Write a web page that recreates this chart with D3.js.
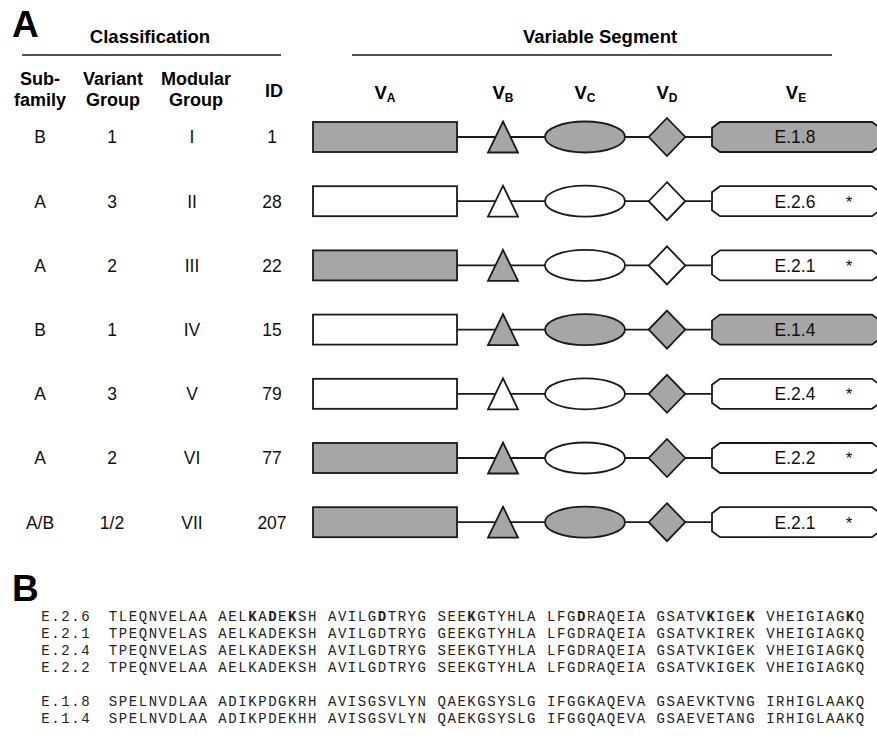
<!DOCTYPE html>
<html><head><meta charset="utf-8">
<script src="https://cdn.jsdelivr.net/npm/d3@7"></script>
<style>
html,body{margin:0;padding:0;background:#fff;}
svg{display:block;font-family:"Liberation Sans",Arial,sans-serif;}
</style></head>
<body>
<svg id="chart" width="877" height="749"></svg>
<script>
// ---------- Panel A data ----------
const subfamily    = ["B","A","A","B","A","A","A/B"];
const variantGroup = ["1","3","2","1","3","2","1/2"];
const modularGroup = ["I","II","III","IV","V","VI","VII"];
const ids          = ["1","28","22","15","79","77","207"];
const segments     = ["A","B","C","D","E"];
// 1 = grey (filled), 0 = white
const vA = [1,0,1,0,0,1,1];
const vB = [1,0,1,1,0,1,1];
const vC = [1,0,0,1,0,0,1];
const vD = [1,0,0,1,1,1,1];
const vE = [1,0,0,1,0,0,0];
const vELabel = ["E.1.8","E.2.6","E.2.1","E.1.4","E.2.4","E.2.2","E.2.1"];
const vEStar  = [0,1,1,0,1,1,1];

// ---------- Panel B data ----------
const seqLabels = ["E.2.6","E.2.1","E.2.4","E.2.2","E.1.8","E.1.4"];
const seqLine   = [0,1,2,3,5,6];  // line slots (slot 4 is blank)
const seqE26 = ["TLEQNVELAA","AELKADEKSH","AVILGDTRYG","SEEKGTYHLA","LFGDRAQEIA","GSATVKIGEK","VHEIGIAGKQ"];
const seqE21 = ["TPEQNVELAS","AELKADEKSH","AVILGDTRYG","GEEKGTYHLA","LFGDRAQEIA","GSATVKIREK","VHEIGIAGKQ"];
const seqE24 = ["TPEQNVELAS","AELKADEKSH","AVILGDTRYG","SEEKGTYHLA","LFGDRAQEIA","GSATVKIGEK","VHEIGIAGKQ"];
const seqE22 = ["TPEQNVELAA","AELKADEKSH","AVILGDTRYG","SEEKGTYHLA","LFGDRAQEIA","GSATVKIGEK","VHEIGIAGKQ"];
const seqE18 = ["SPELNVDLAA","ADIKPDGKRH","AVISGSVLYN","QAEKGSYSLG","IFGGKAQEVA","GSAEVKTVNG","IRHIGLAAKQ"];
const seqE14 = ["SPELNVDLAA","ADIKPDEKHH","AVISGSVLYN","QAEKGSYSLG","IFGGQAQEVA","GSAEVETANG","IRHIGLAAKQ"];
const seqs = [seqE26, seqE21, seqE24, seqE22, seqE18, seqE14];
// bold residues (0-based residue index) per sequence
const boldE26 = [13,15,17,25,33,43,55,59,68];
const boldSets = [boldE26, [], [], [], [], []];

// ---------- drawing ----------
const svg = d3.select("#chart");
const GREY = "#a6a6a6", INK = "#1a1a1a";

// panel letters
svg.append("text").attr("x",12).attr("y",37).attr("font-size",37).attr("font-weight","bold").text("A");
svg.append("text").attr("x",12).attr("y",601).attr("font-size",37).attr("font-weight","bold").text("B");

// group titles + rules
svg.append("text").attr("x",150).attr("y",43).attr("text-anchor","middle")
  .attr("font-size",18.5).attr("font-weight","bold").text("Classification");
svg.append("line").attr("x1",22).attr("x2",281).attr("y1",55).attr("y2",55).attr("stroke",INK).attr("stroke-width",1.6);
svg.append("text").attr("x",600).attr("y",43).attr("text-anchor","middle")
  .attr("font-size",18.5).attr("font-weight","bold").text("Variable Segment");
svg.append("line").attr("x1",352).attr("x2",832).attr("y1",55).attr("y2",55).attr("stroke",INK).attr("stroke-width",1.6);

// column headers
const colX = d3.scaleOrdinal().domain(["sub","var","mod","id"]).range([40,112,192,272]);
const headers = [
  {c:"sub", lines:["Sub-","family"], x:40},
  {c:"var", lines:["Variant","Group"], x:113},
  {c:"mod", lines:["Modular","Group"], x:196},
];
headers.forEach(h=>{
  const t = svg.append("text").attr("text-anchor","middle").attr("font-size",18).attr("font-weight","bold");
  t.append("tspan").attr("x",h.x).attr("y",85).text(h.lines[0]);
  t.append("tspan").attr("x",h.x).attr("y",106).text(h.lines[1]);
});
svg.append("text").attr("x",274).attr("y",96.5).attr("text-anchor","middle")
  .attr("font-size",18).attr("font-weight","bold").text("ID");

// segment x positions
const xSeg = d3.scaleOrdinal().domain(segments).range([385, 503, 585, 667, 796]);
segments.forEach(s=>{
  const t = svg.append("text").attr("x",xSeg(s)).attr("y",98.5).attr("text-anchor","middle")
    .attr("font-weight","bold").attr("font-size",18.5);
  t.append("tspan").text("V");
  t.append("tspan").attr("font-size",12).attr("dy",3.3).text(s);
});

// rows
const rows = d3.range(ids.length);
const yRow = d3.scalePoint().domain(rows).range([137, 522.2]);
const fill = v => v ? GREY : "#fff";

const cols = [["sub",subfamily],["var",variantGroup],["mod",modularGroup],["id",ids]];
cols.forEach(([c,arr])=>{
  svg.selectAll(null).data(rows).enter().append("text")
    .attr("x", colX(c)).attr("y", i=>yRow(i)+6.3)
    .attr("text-anchor","middle").attr("font-size",17.5).attr("fill","#111")
    .text(i=>arr[i]);
});

const g = svg.selectAll("g.row").data(rows).enter().append("g").attr("class","row")
  .attr("transform", i=>`translate(0,${yRow(i)})`);

// connector line
g.append("line").attr("x1", xSeg("A")+72).attr("x2", xSeg("E")-84).attr("y1",0).attr("y2",0)
  .attr("stroke",INK).attr("stroke-width",1.8);
// V_A rect
g.append("rect").attr("x", xSeg("A")-72).attr("y",-15).attr("width",144).attr("height",30)
  .attr("fill", i=>fill(vA[i])).attr("stroke",INK).attr("stroke-width",1.8);
// V_B triangle
g.append("path").attr("d", ()=>{const x=xSeg("B"); return `M${x},-15.5L${x+15},15.5L${x-15},15.5Z`;})
  .attr("fill", i=>fill(vB[i])).attr("stroke",INK).attr("stroke-width",1.8).attr("stroke-linejoin","miter");
// V_C ellipse
g.append("ellipse").attr("cx", xSeg("C")).attr("cy",0).attr("rx",40).attr("ry",15.5)
  .attr("fill", i=>fill(vC[i])).attr("stroke",INK).attr("stroke-width",1.8);
// V_D diamond
g.append("path").attr("d", ()=>{const x=xSeg("D"); return `M${x},-19L${x+18.3},0L${x},19L${x-18.3},0Z`;})
  .attr("fill", i=>fill(vD[i])).attr("stroke",INK).attr("stroke-width",1.8);
// V_E octagon
g.append("path").attr("d", ()=>{
    const l = xSeg("E")-84, r = xSeg("E")+84;
    return `M${l+8},-15L${r-8},-15L${r},-9L${r},9L${r-8},15L${l+8},15L${l},9L${l},-9Z`;})
  .attr("fill", i=>fill(vE[i])).attr("stroke",INK).attr("stroke-width",1.8);
g.append("text").attr("x", xSeg("E")-1).attr("y",6.3).attr("text-anchor","middle")
  .attr("font-size",17.5).attr("fill","#111").text(i=>vELabel[i]);
g.filter(i=>vEStar[i]).append("text").attr("x", xSeg("E")+53).attr("y",6.3).attr("text-anchor","middle")
  .attr("font-size",17).attr("fill","#111").text("*");

// ---------- Panel B: alignment ----------
const charW = 9.96;
const xCol = d3.scaleLinear().domain([0,1]).range([108, 108+charW]);
const xLab = d3.scaleLinear().domain([0,1]).range([40.5, 40.5+charW]);
const ySeq = d3.scaleLinear().domain([0,1]).range([620.5, 637.6]);
const mono = "'Liberation Mono','Courier New',monospace";
const FS = 14;

seqLabels.forEach((lab,k)=>{
  const y = ySeq(seqLine[k]);
  svg.append("g").selectAll("text").data(lab.split("")).enter().append("text")
    .attr("x",(d,i)=>xLab(i)+0.8).attr("y",y).attr("font-family",mono).attr("font-size",FS)
    .attr("fill","#222").text(d=>d);
  const chars = [];
  seqs[k].forEach((grp,gi)=>{
    grp.split("").forEach((ch,ci)=>{
      chars.push({ch, col: gi*11+ci, res: gi*10+ci});
    });
  });
  svg.append("g").selectAll("text").data(chars).enter().append("text")
    .attr("x", d=>xCol(d.col)+0.8).attr("y", y)
    .attr("font-family",mono).attr("font-size",FS).attr("fill","#222")
    .attr("font-weight", d=>boldSets[k].includes(d.res) ? "bold" : "normal")
    .text(d=>d.ch);
});
</script>
</body></html>
